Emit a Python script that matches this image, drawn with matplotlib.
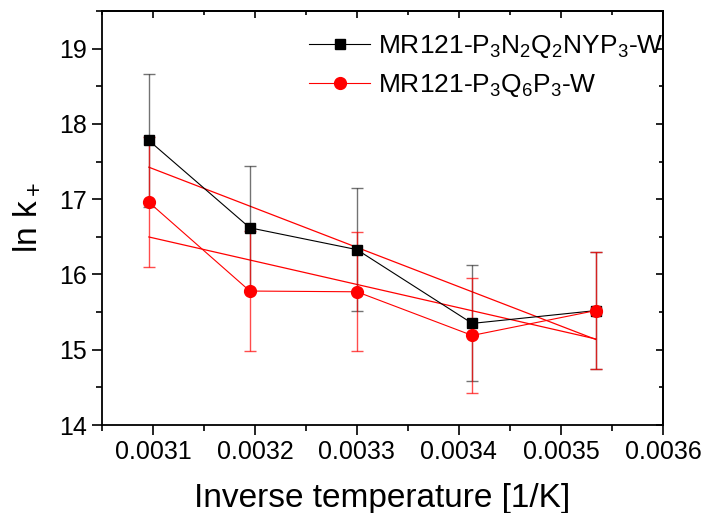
import numpy as np
import matplotlib
matplotlib.use("Agg")
import matplotlib.pyplot as plt
from matplotlib.ticker import MultipleLocator

plt.rcParams['font.family'] = ['Liberation Sans', 'DejaVu Sans']
plt.rcParams['mathtext.fontset'] = 'custom'
plt.rcParams['mathtext.rm'] = 'Liberation Sans'
plt.rcParams['mathtext.it'] = 'Liberation Sans'
plt.rcParams['mathtext.default'] = 'regular'

# Data
inv_T = [0.003096, 0.003195, 0.003300, 0.003413, 0.003534]
lnk_black = [17.78, 16.62, 16.33, 15.35, 15.52]
err_black = [0.89, 0.82, 0.82, 0.77, 0.78]
lnk_red = [16.96, 15.78, 15.77, 15.19, 15.52]
err_red = [0.86, 0.80, 0.79, 0.76, 0.78]
label_black = r'MR121-P$_3$N$_2$Q$_2$NYP$_3$-W'
label_red = r'MR121-P$_3$Q$_6$P$_3$-W'

fig = plt.figure(figsize=(7.03, 5.13), dpi=100)
ax = fig.add_axes([0.145, 0.1715, 0.798, 0.807])

x = np.array(inv_T)
# linear fits (red)
for yv in (lnk_black, lnk_red):
    p = np.polyfit(x, np.array(yv), 1)
    xs = np.array([x[0], x[-1]])
    ax.plot(xs, np.polyval(p, xs), color='red', lw=0.9, zorder=2)

ax.errorbar(x, lnk_black, yerr=err_black, fmt='none', ecolor='black', alpha=0.55,
            elinewidth=1.0, capsize=4, capthick=1.0, zorder=3)
ax.errorbar(x, lnk_red, yerr=err_red, fmt='none', ecolor='red', alpha=0.7,
            elinewidth=1.0, capsize=4, capthick=1.0, zorder=3)
ax.plot(x, lnk_black, color='black', lw=0.8, marker='s', ms=7, mfc='black',
        mec='black', label=label_black, zorder=4)
ax.plot(x, lnk_red, color='red', lw=0.8, marker='o', ms=8.5, mfc='red',
        mec='red', label=label_red, zorder=5)

ax.set_xlim(0.00305, 0.0036)
ax.set_ylim(14, 19.5)
ax.xaxis.set_major_locator(MultipleLocator(0.0001))
ax.xaxis.set_minor_locator(MultipleLocator(0.00005))
ax.yaxis.set_major_locator(MultipleLocator(1))
ax.yaxis.set_minor_locator(MultipleLocator(0.5))
ax.set_xticks([0.0031, 0.0032, 0.0033, 0.0034, 0.0035, 0.0036])
ax.set_xticklabels(['0.0031', '0.0032', '0.0033', '0.0034', '0.0035', '0.0036'])

ax.tick_params(which='major', direction='out', length=7, width=1.2, labelsize=18)
ax.tick_params(which='minor', direction='out', length=4, width=1.2)
for s in ax.spines.values():
    s.set_linewidth(1.3)

sx = ax.secondary_xaxis('top')
sx.xaxis.set_major_locator(MultipleLocator(0.0001))
sx.xaxis.set_minor_locator(MultipleLocator(0.00005))
sx.tick_params(which='both', direction='in', labeltop=False, width=1.2)
sx.tick_params(which='major', length=5)
sx.tick_params(which='minor', length=3)
sx.spines['top'].set_linewidth(1.3)
sy = ax.secondary_yaxis('right')
sy.yaxis.set_major_locator(MultipleLocator(1))
sy.yaxis.set_minor_locator(MultipleLocator(0.5))
sy.tick_params(which='both', direction='in', labelright=False, width=1.2)
sy.tick_params(which='major', length=5)
sy.tick_params(which='minor', length=3)
sy.spines['right'].set_linewidth(1.3)

ax.set_xlabel('Inverse temperature [1/K]', fontsize=24, labelpad=14)
ax.set_ylabel(r'ln k$_+$', fontsize=24, labelpad=12)

ax.legend(loc='upper right', frameon=False, fontsize=19, handlelength=2.3,
          handletextpad=0.3, borderaxespad=0.0, labelspacing=0.45,
          bbox_to_anchor=(1.02, 0.972))

fig.savefig('out.png', dpi=100)
